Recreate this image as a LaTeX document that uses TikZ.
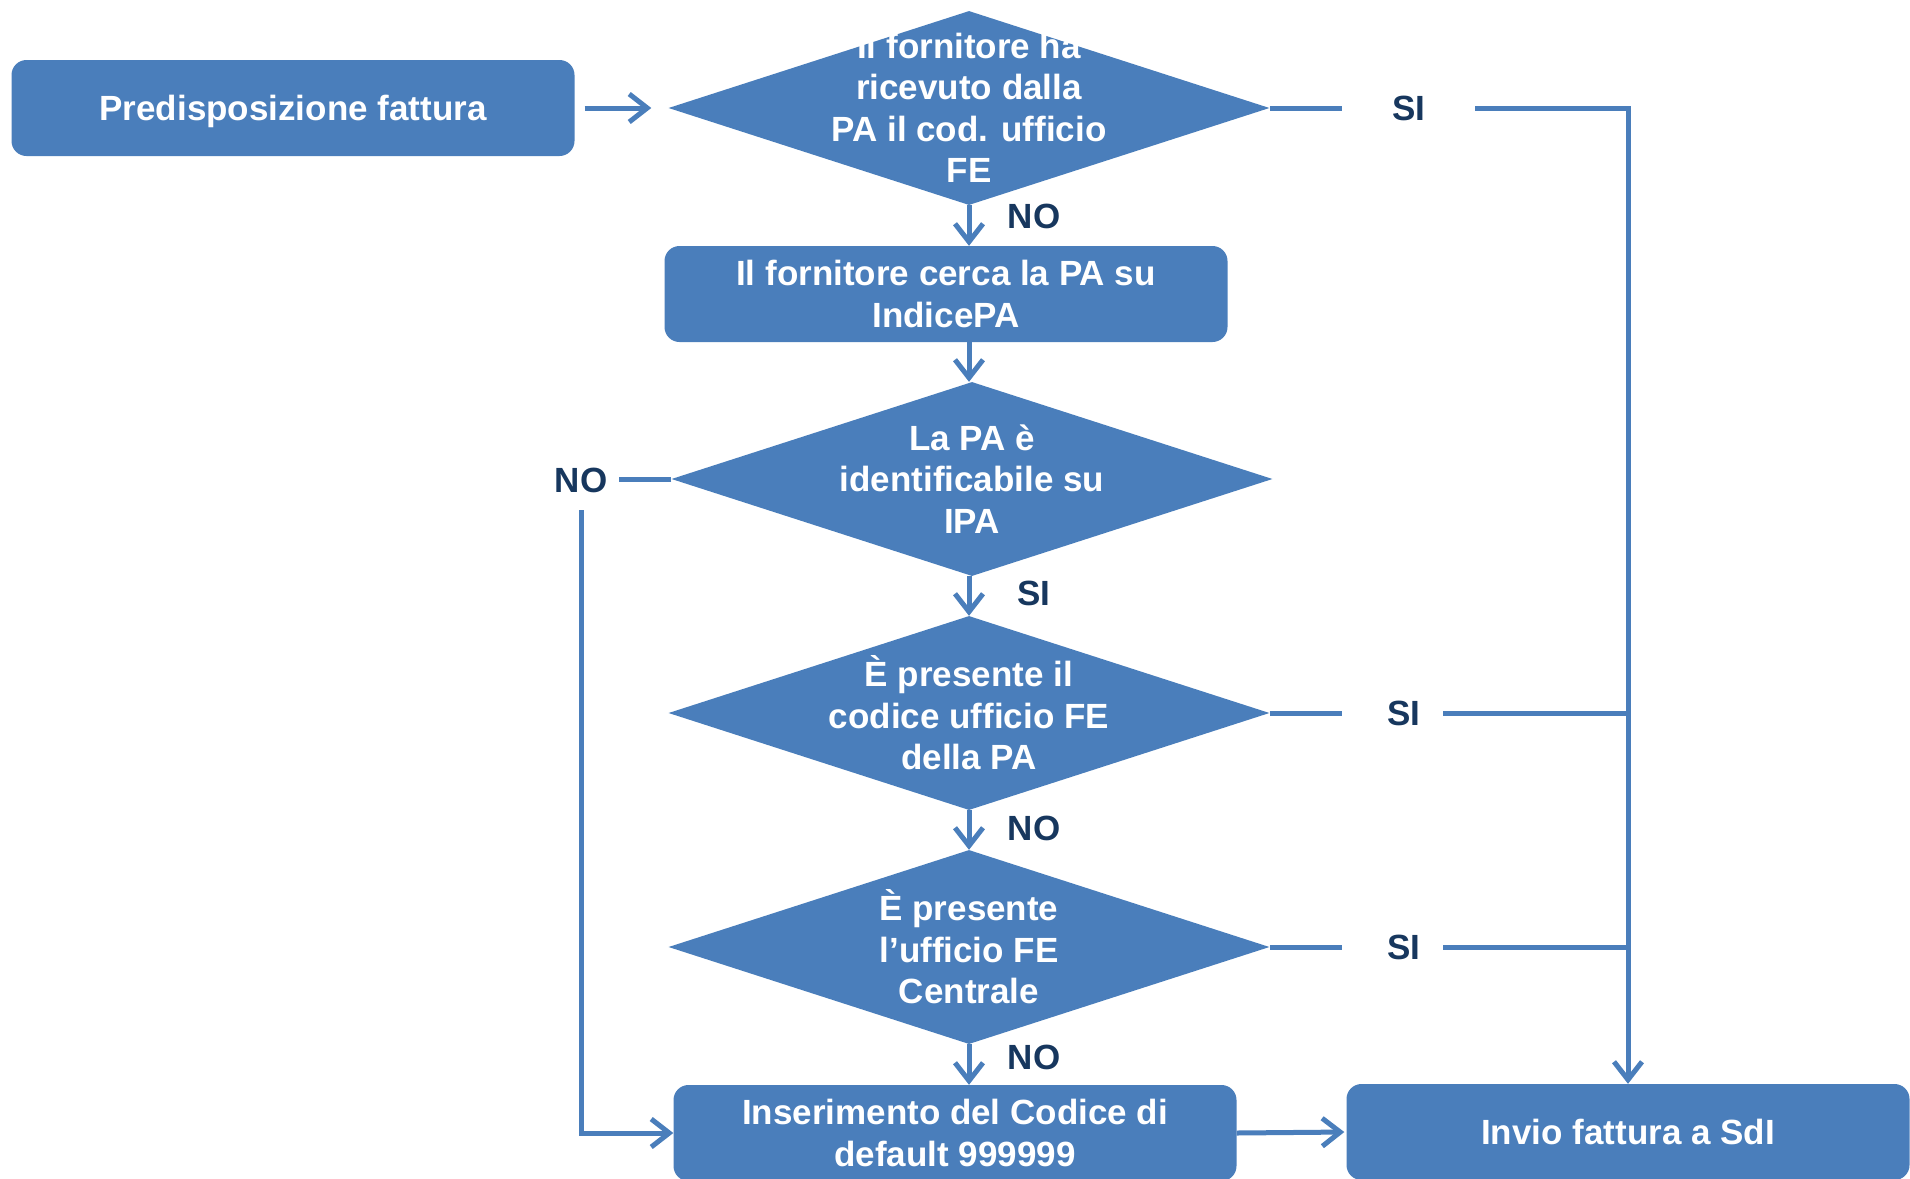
\documentclass[tikz,border=0pt]{standalone}
\usepackage{fontspec}
\setmainfont{Liberation Sans}
\usetikzlibrary{shapes.geometric,arrows.meta}
\definecolor{fillblue}{HTML}{4A7EBB}
\definecolor{labnavy}{HTML}{17375E}
\begin{document}
\begin{tikzpicture}[x=1pt,y=-1pt,
  txt/.style={font=\bfseries\fontsize{35}{41.5}\selectfont},
  box/.style={txt, rectangle, rounded corners=15pt, fill=fillblue, minimum width=563pt, minimum height=96pt, text=white, align=center, inner sep=0pt},
  dia/.style={diamond, fill=fillblue, minimum width=601pt, minimum height=194pt, inner sep=0pt},
  dtext/.style={txt, text=white, align=center, inner sep=0pt},
  lab/.style={txt, text=labnavy, inner sep=0pt},
  conn/.style={draw=fillblue, line width=5pt},
  arr/.style={conn, -{Straight Barb[length=18pt,width=28pt]}},
]
\useasboundingbox (0,0) rectangle (1910,1178);
\clip (0,0) rectangle (1910,1178);

\node[box, text height=25pt, text depth=0pt] (b1) at (293,108) {Predisposizione fattura};
\node[dia, label={[dtext]center:{Il fornitore ha\\ricevuto dalla\\PA il cod. ufficio\\FE}}] (d1) at (969,108) {};
\node[box] (b2) at (946,294) {Il fornitore cerca la PA su\\IndicePA};
\node[dia, label={[dtext]center:{La PA è\\identificabile su\\IPA}}] (d2) at (972,479) {};
\node[dia, label={[dtext]center:{È presente il\\codice ufficio FE\\della PA}}] (d3) at (969,713) {};
\node[dia, label={[dtext]center:{È presente\\l’ufficio FE\\Centrale}}] (d4) at (969,947) {};
\node[box] (b3) at (955,1133) {Inserimento del Codice di\\default 999999};
\node[box] (b4) at (1628,1132) {Invio fattura a SdI};

\node[lab] (no1) at (1034,216) {NO};
\node[lab] (si2) at (1034,593) {SI};
\node[lab] (no3) at (1034,828) {NO};
\node[lab] (no4) at (1034,1057) {NO};
\node[lab] (si1) at (1409,108) {SI};
\node[lab] (si3) at (1404,713) {SI};
\node[lab] (si4) at (1404,947) {SI};
\node[lab] (no2) at (581,480) {NO};

\coordinate (c1) at (b4.north |- d1.east);
\coordinate (c3) at (b4.north |- d3.east);
\coordinate (c4) at (b4.north |- d4.east);

\draw[arr, shorten <=10pt, shorten >=17pt] (b1.east) -- (d1.west);
\draw[arr] (d1.south) -- (d1.south |- b2.north);
\draw[arr] (d1.south |- b2.south) -- (d1.south |- d2.north);
\draw[arr] (d3.north |- d2.south) -- (d3.north);
\draw[arr] (d3.south) -- (d4.north);
\draw[arr] (d4.south) -- (d4.south |- b3.north);

\draw[conn, shorten >=67pt] (d1.east) -- (si1.center);
\draw[arr, shorten <=66pt] (si1.center) -- (c1) -- (b4.north);
\draw[conn, shorten >=62pt] (d3.east) -- (si3.center);
\draw[conn, shorten <=39pt] (si3.center) -- (c3);
\draw[conn, shorten >=62pt] (d4.east) -- (si4.center);
\draw[conn, shorten <=39pt] (si4.center) -- (c4);

\draw[conn, shorten >=38pt] (d2.west) -- (no2.center |- d2.west);
\draw[arr, shorten <=30pt] (no2.center) |- (b3.west);

\draw[arr, shorten >=2pt] (b3.east) -- (b4.west);
\end{tikzpicture}
\end{document}
